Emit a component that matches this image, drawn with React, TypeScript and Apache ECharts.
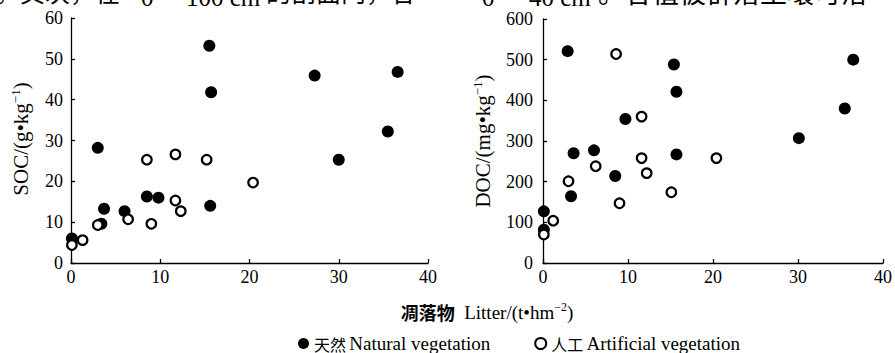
import React, { useEffect, useRef } from "react";
import * as echarts from "echarts";

// Tick labels
const litterTicks = [0, 10, 20, 30, 40];
const socTicks = [0, 10, 20, 30, 40, 50, 60];
const docTicks = [0, 100, 200, 300, 400, 500, 600];

// Series names
const NATURAL = "天然 Natural vegetation";
const ARTIFICIAL = "人工 Artificial vegetation";

// SOC panel (left)
const socNaturalLitter = [15.5, 27.3, 36.6, 15.7, 35.5, 3.0, 30.0, 8.5, 9.8, 15.6, 3.7, 6.0, 0.1, 3.4];
const socNaturalValues = [53.2, 45.9, 46.8, 41.8, 32.2, 28.2, 25.3, 16.3, 16.0, 14.0, 13.3, 12.7, 6.0, 9.6];
const socArtificialLitter = [8.5, 11.7, 15.2, 20.4, 11.7, 12.3, 6.4, 9.0, 3.0, 1.3, 0.1];
const socArtificialValues = [25.3, 26.6, 25.3, 19.7, 15.3, 12.7, 10.7, 9.6, 9.3, 5.6, 4.4];

// DOC panel (right)
const docNaturalLitter = [2.9, 15.4, 36.5, 15.7, 35.5, 30.1, 9.7, 6.0, 3.6, 15.7, 8.5, 3.3, 0.1, 0.1];
const docNaturalValues = [521, 488, 500, 421, 380, 307, 354, 277, 270, 267, 214, 164, 127, 82];
const docArtificialLitter = [8.6, 11.6, 11.6, 20.4, 6.2, 12.2, 3.0, 15.1, 9.0, 1.2, 0.1];
const docArtificialValues = [514, 360, 258, 258, 238, 221, 201, 174, 147, 104, 70];

const zip = (xs: number[], ys: number[]) => xs.map((x, i) => [x, ys[i]]);

const SERIF = "'Liberation Serif', 'Times New Roman', 'Noto Sans CJK SC', serif";
const CJK = "'Noto Sans CJK SC', sans-serif";

export default function App() {
  const ref = useRef<HTMLDivElement>(null);

  useEffect(() => {
    if (!ref.current) return;
    const chart = echarts.init(ref.current, null, { renderer: "svg" });

    const axisLine = { show: true, onZero: false, lineStyle: { color: "#000", width: 1.3 } };
    const axisTick = { show: true, inside: true, length: 4, lineStyle: { color: "#000", width: 1.3 } };
    const label = (margin: number) => ({
      color: "#000",
      fontFamily: SERIF,
      fontSize: 18,
      margin,
    });

    const xAxisFor = (gridIndex: number) => ({
      type: "value",
      gridIndex,
      min: litterTicks[0],
      max: litterTicks[litterTicks.length - 1],
      interval: litterTicks[1] - litterTicks[0],
      axisLine,
      axisTick,
      splitLine: { show: false },
      axisLabel: label(5),
    });

    const richAxis = {
      a: { fontFamily: SERIF, fontSize: 21, lineHeight: 24, fill: "#000" },
      s: { fontFamily: SERIF, fontSize: 13, lineHeight: 13, verticalAlign: "top", fill: "#000" },
    };
    const richTitle = {
      a: { fontFamily: SERIF, fontSize: 19, lineHeight: 22, fill: "#000" },
      s: { fontFamily: SERIF, fontSize: 12, lineHeight: 12, verticalAlign: "top", fill: "#000" },
      b: { fontFamily: CJK, fontSize: 18, fontWeight: "bold", lineHeight: 22, fill: "#000" },
    };

    const topText = (text: string, x: number, y: number, family: string, size: number) => ({
      type: "text",
      x,
      y,
      silent: true,
      style: { text, fontFamily: family, fontSize: size, fill: "#000", verticalAlign: "middle", align: "left" },
    });

    const natural = { color: "#000", opacity: 1 };
    const artificial = { color: "#fff", borderColor: "#000", borderWidth: 2.2, opacity: 1 };

    chart.setOption({
      animation: false,
      backgroundColor: "#fff",
      grid: [
        { left: 71, top: 18, width: 357, height: 245 },
        { left: 543, top: 19, width: 343, height: 244 },
      ],
      xAxis: [xAxisFor(0), xAxisFor(1)],
      yAxis: [
        {
          type: "value",
          gridIndex: 0,
          min: socTicks[0],
          max: socTicks[socTicks.length - 1],
          interval: socTicks[1] - socTicks[0],
          axisLine,
          axisTick,
          splitLine: { show: false },
          axisLabel: label(8),
        },
        {
          type: "value",
          gridIndex: 1,
          min: docTicks[0],
          max: docTicks[docTicks.length - 1],
          interval: docTicks[1] - docTicks[0],
          axisLine,
          axisTick,
          splitLine: { show: false },
          axisLabel: label(10),
        },
      ],
      legend: {
        left: 293,
        top: 329,
        icon: "circle",
        itemWidth: 11,
        itemHeight: 11,
        itemGap: 44,
        selectedMode: false,
        formatter: (name: string) => {
          const i = name.indexOf(" ");
          return "{c|" + name.slice(0, i) + "} {a|" + name.slice(i + 1) + "}";
        },
        textStyle: {
          color: "#000",
          rich: {
            c: { fontFamily: CJK, fontSize: 16, color: "#000" },
            a: { fontFamily: SERIF, fontSize: 19, color: "#000" },
          },
        },
        data: [NATURAL, ARTIFICIAL],
      },
      series: [
        {
          type: "scatter",
          name: NATURAL,
          xAxisIndex: 0,
          yAxisIndex: 0,
          clip: false,
          symbol: "circle",
          symbolSize: 12,
          itemStyle: natural,
          data: zip(socNaturalLitter, socNaturalValues),
        },
        {
          type: "scatter",
          name: ARTIFICIAL,
          xAxisIndex: 0,
          yAxisIndex: 0,
          clip: false,
          symbol: "circle",
          symbolSize: 9.5,
          itemStyle: artificial,
          data: zip(socArtificialLitter, socArtificialValues),
        },
        {
          type: "scatter",
          name: NATURAL,
          xAxisIndex: 1,
          yAxisIndex: 1,
          clip: false,
          symbol: "circle",
          symbolSize: 12,
          itemStyle: natural,
          data: zip(docNaturalLitter, docNaturalValues),
        },
        {
          type: "scatter",
          name: ARTIFICIAL,
          xAxisIndex: 1,
          yAxisIndex: 1,
          clip: false,
          symbol: "circle",
          symbolSize: 9.5,
          itemStyle: artificial,
          data: zip(docArtificialLitter, docArtificialValues),
        },
      ],
      graphic: [
        // cropped line of body text at the very top
        topText("。其次，在", -5, -9, CJK, 25),
        topText("0", 141, -3, SERIF, 25),
        topText("100 cm", 186, -3, SERIF, 25),
        topText("的剖面内，各", 266, -9, CJK, 25),
        topText("0", 482, -3, SERIF, 25),
        topText("40 cm", 529, -3, SERIF, 25),
        topText("。各植被群落土壤可溶", 598, -9, CJK, 27),
        {
          type: "text",
          x: 21,
          y: 139,
          rotation: Math.PI / 2,
          silent: true,
          style: { text: "{a|SOC/(g•kg}{s|−1}{a|)}", rich: richAxis, align: "center", verticalAlign: "middle" },
        },
        {
          type: "text",
          x: 483,
          y: 141,
          rotation: Math.PI / 2,
          silent: true,
          style: { text: "{a|DOC/(mg•kg}{s|−1}{a|)}", rich: richAxis, align: "center", verticalAlign: "middle" },
        },
        {
          type: "text",
          x: 487,
          y: 312,
          silent: true,
          style: { text: "{b|凋落物}{a|  Litter/(t•hm}{s|−2}{a|)}", rich: richTitle, align: "center", verticalAlign: "middle" },
        },
      ],
    });

    return () => chart.dispose();
  }, []);

  return (
    <div
      ref={ref}
      style={{ position: "absolute", left: 0, top: 0, width: 895, height: 353, background: "#fff" }}
    />
  );
}
